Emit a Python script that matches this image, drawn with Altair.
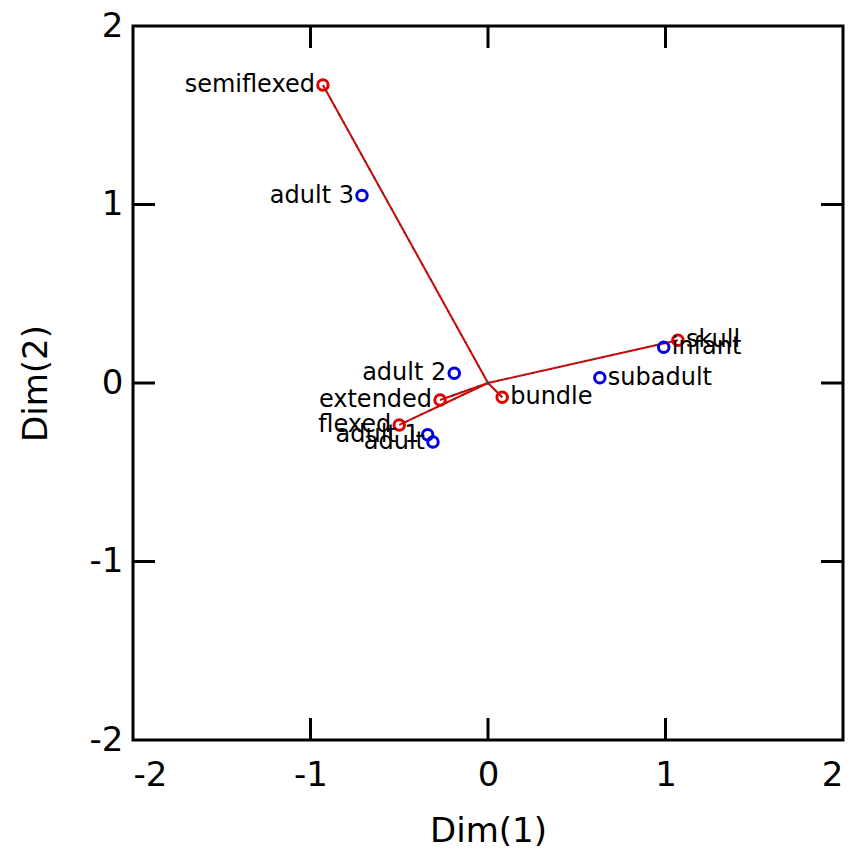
import altair as alt
import pandas as pd

# Column points (burial position)
col_names = ["semiflexed", "extended", "flexed", "bundle", "skull"]
col_x = [-0.93, -0.27, -0.50, 0.08, 1.07]
col_y = [1.67, -0.095, -0.235, -0.08, 0.24]
col_side = ["left", "left", "left", "right", "right"]

# Row points (age)
row_names = ["adult 3", "adult 2", "adult 1", "adult", "subadult", "infant"]
row_x = [-0.71, -0.19, -0.34, -0.31, 0.63, 0.99]
row_y = [1.05, 0.055, -0.29, -0.33, 0.03, 0.20]
row_side = ["left", "left", "left", "left", "right", "right"]

tick_vals = [-1, 0, 1]
label_vals = [-2, -1, 0, 1, 2]

W, H = 710, 714
RED = "#e00000"
BLUE = "#0000e0"
FONT = "DejaVu Sans"

cols = pd.DataFrame({"name": col_names, "x": col_x, "y": col_y, "side": col_side, "grp": "col"})
rows = pd.DataFrame({"name": row_names, "x": row_x, "y": row_y, "side": row_side, "grp": "row"})
pts = pd.concat([cols, rows], ignore_index=True)

line_rows = []
for n, xv, yv in zip(col_names, col_x, col_y):
    line_rows.append({"ray": n, "order": 0, "x": 0.0, "y": 0.0})
    line_rows.append({"ray": n, "order": 1, "x": xv, "y": yv})
lines = pd.DataFrame(line_rows)
ticks = pd.DataFrame({"t": tick_vals})

xs = alt.Scale(domain=[-2, 2], nice=False, zero=False)
ys = alt.Scale(domain=[-2, 2], nice=False, zero=False)

xaxis = alt.Axis(values=label_vals, ticks=False, domain=False, grid=False, labelFontSize=34,
                 labelFont=FONT, labelPadding=18, title="Dim(1)", titleFontSize=34,
                 titleFont=FONT, titleFontWeight="normal", titlePadding=22, labelColor="black",
                 titleColor="black", labelExpr="'' + datum.value")
yaxis = alt.Axis(values=label_vals, ticks=False, domain=False, grid=False, labelFontSize=34,
                 labelFont=FONT, labelPadding=10, title="Dim(2)", titleFontSize=34,
                 titleFont=FONT, titleFontWeight="normal", titlePadding=36, labelColor="black",
                 titleColor="black", labelExpr="'' + datum.value")

base_line = alt.Chart(lines).mark_line(color=RED, strokeWidth=2).encode(
    x=alt.X("x:Q", scale=xs, axis=xaxis),
    y=alt.Y("y:Q", scale=ys, axis=yaxis),
    detail="ray:N",
    order="order:Q",
)
dash_line = alt.Chart(lines).mark_line(color="#444444", strokeWidth=2, strokeDash=[2, 7]).encode(
    x=alt.X("x:Q", scale=xs), y=alt.Y("y:Q", scale=ys), detail="ray:N", order="order:Q"
)

points = alt.Chart(pts).mark_point(shape="circle", filled=False, size=110, strokeWidth=3, opacity=1).encode(
    x=alt.X("x:Q", scale=xs),
    y=alt.Y("y:Q", scale=ys),
    color=alt.Color("grp:N", scale=alt.Scale(domain=["col", "row"], range=[RED, BLUE]), legend=None),
)

lab_left = alt.Chart(pts).transform_filter(alt.datum.side == "left").mark_text(
    align="right", baseline="middle", dx=-8, fontSize=24, font=FONT, color="black"
).encode(x=alt.X("x:Q", scale=xs), y=alt.Y("y:Q", scale=ys), text="name:N")
lab_right = alt.Chart(pts).transform_filter(alt.datum.side == "right").mark_text(
    align="left", baseline="middle", dx=8, fontSize=24, font=FONT, color="black"
).encode(x=alt.X("x:Q", scale=xs), y=alt.Y("y:Q", scale=ys), text="name:N")

TL = 22
tk = alt.Chart(ticks).mark_rule(color="black", strokeWidth=3)
t_bottom = tk.encode(x=alt.X("t:Q", scale=xs), y=alt.value(H), y2=alt.value(H - TL))
t_top = tk.encode(x=alt.X("t:Q", scale=xs), y=alt.value(0), y2=alt.value(TL))
t_left = tk.encode(y=alt.Y("t:Q", scale=ys), x=alt.value(0), x2=alt.value(TL))
t_right = tk.encode(y=alt.Y("t:Q", scale=ys), x=alt.value(W), x2=alt.value(W - TL))

chart = alt.layer(
    base_line, dash_line, t_bottom, t_top, t_left, t_right, points, lab_left, lab_right
).properties(
    width=W, height=H,
    autosize=alt.AutoSizeParams(type="none"),
    padding={"left": 125, "top": 18, "right": 5, "bottom": 110},
    background="white",
).configure_view(stroke="black", strokeWidth=3)

chart.save("out.html", embed_options={"renderer": "svg", "actions": False})
